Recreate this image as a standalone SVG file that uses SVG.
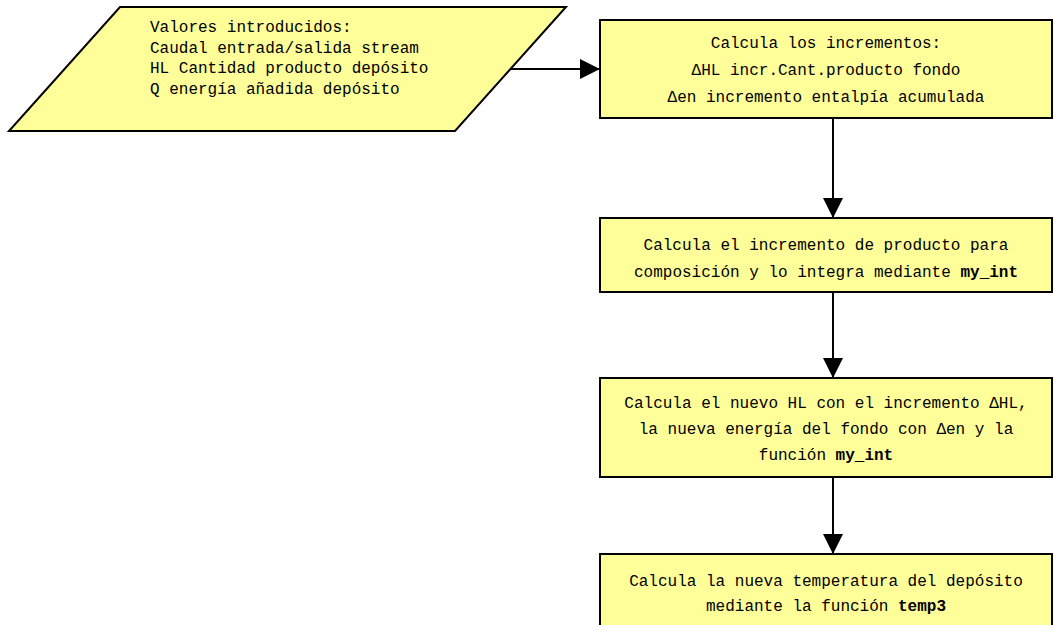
<svg xmlns="http://www.w3.org/2000/svg" width="1054" height="625" viewBox="0 0 1054 625">
  <style>
    .shape { fill: #FFFF99; stroke: #000000; stroke-width: 2; }
    .txt { font-family: "Liberation Mono", "DejaVu Sans Mono", monospace; font-size: 16px; fill: #000000; }
    .mid { text-anchor: middle; }
    .b { font-weight: bold; }
    .edge { stroke: #000000; stroke-width: 2; fill: none; }
  </style>
  <defs>
    <marker id="arrow" markerWidth="20" markerHeight="20" refX="20" refY="10" orient="auto" markerUnits="userSpaceOnUse">
      <path d="M0,0 L20,10 L0,20 Z" fill="#000000"/>
    </marker>
  </defs>
  <rect width="1054" height="625" fill="#FFFFFF"/>

  <!-- input data (parallelogram) -->
  <g id="entrada">
    <polygon class="shape" points="120,7 566,7 455,131 9,131"/>
    <text class="txt" x="150" y="32">Valores introducidos:</text>
    <text class="txt" x="150" y="53">Caudal entrada/salida stream</text>
    <text class="txt" x="150" y="73">HL Cantidad producto depósito</text>
    <text class="txt" x="150" y="94">Q energía añadida depósito</text>
  </g>

  <!-- step 1: increments -->
  <g id="incrementos">
    <rect class="shape" x="600" y="20" width="452" height="98"/>
    <text class="txt mid" x="826" y="48">Calcula los incrementos:</text>
    <text class="txt mid" x="826" y="75">ΔHL incr.Cant.producto fondo</text>
    <text class="txt mid" x="826" y="102">Δen incremento entalpía acumulada</text>
  </g>

  <!-- step 2: composition integration -->
  <g id="composicion">
    <rect class="shape" x="600" y="218" width="452" height="74"/>
    <text class="txt mid" x="826" y="250">Calcula el incremento de producto para</text>
    <text class="txt mid" x="826" y="277">composición y lo integra mediante <tspan class="b">my_int</tspan></text>
  </g>

  <!-- step 3: new HL and energy -->
  <g id="nuevo_hl">
    <rect class="shape" x="600" y="378" width="452" height="99"/>
    <text class="txt mid" x="826" y="408">Calcula el nuevo HL con el incremento ΔHL,</text>
    <text class="txt mid" x="826" y="434">la nueva energía del fondo con Δen y la</text>
    <text class="txt mid" x="826" y="460">función <tspan class="b">my_int</tspan></text>
  </g>

  <!-- step 4: new temperature -->
  <g id="temperatura">
    <rect class="shape" x="600" y="554" width="452" height="90"/>
    <text class="txt mid" x="826" y="586">Calcula la nueva temperatura del depósito</text>
    <text class="txt mid" x="826" y="611">mediante la función <tspan class="b">temp3</tspan></text>
  </g>

  <!-- connectors -->
  <g id="conectores">
    <line class="edge" x1="511" y1="69" x2="600" y2="69" marker-end="url(#arrow)"/>
    <line class="edge" x1="833" y1="119" x2="833" y2="218" marker-end="url(#arrow)"/>
    <line class="edge" x1="833" y1="293" x2="833" y2="378" marker-end="url(#arrow)"/>
    <line class="edge" x1="833" y1="478" x2="833" y2="554" marker-end="url(#arrow)"/>
  </g>
</svg>
